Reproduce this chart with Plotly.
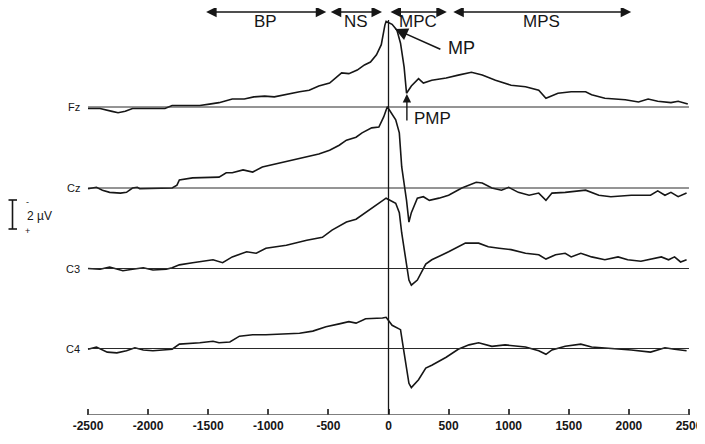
import plotly.graph_objects as go

# time in ms, amplitude in µV (negative potential is drawn upward)
fz_t = [-2500, -2400, -2300, -2250, -2190, -2130, -1990, -1860, -1800, -1740, -1650, -1570, -1490, -1410,
        -1300, -1200, -1120, -1030, -950, -870, -740, -660, -580, -490, -440, -390, -330, -260, -200,
        -150, -100, -60, -30, -20, 30, 70, 100, 130, 150, 190, 250, 290, 360, 480, 580, 690, 780, 890,
        1020, 1140, 1250, 1310, 1410, 1520, 1640, 1690, 1800, 1970, 2080, 2160, 2240, 2350, 2410, 2490]
fz_uv = [0.1, 0.1, 0.3, 0.4, 0.3, 0.1, 0.1, 0.1, -0.1, -0.1, -0.1, -0.1, -0.2, -0.3,
         -0.55, -0.55, -0.7, -0.75, -0.7, -0.85, -1.05, -1.15, -1.45, -1.65, -2.0, -2.35, -2.3, -2.55, -2.9,
         -3.1, -3.6, -4.3, -5.65, -5.9, -5.7, -5.3, -4.4, -2.75, -0.95, -1.45, -1.95, -1.65, -1.85, -2.0, -2.2, -2.4, -2.2, -1.85,
         -1.5, -1.4, -1.15, -0.6, -0.95, -1.05, -1.05, -0.85, -0.6, -0.5, -0.35, -0.55, -0.4, -0.3, -0.4, -0.2]

cz_t = [-2500, -2430, -2380, -2320, -2230, -2180, -2130, -2090, -2070, -1900, -1800, -1760, -1740, -1630,
        -1490, -1410, -1350, -1300, -1210, -1130, -1050, -970, -850, -740, -660, -580, -490, -410, -350,
        -270, -220, -140, -80, -40, -10, 60, 90, 110, 150, 170, 190, 240, 290, 340, 420, 500, 610, 730,
        780, 860, 940, 1000, 1080, 1170, 1250, 1310, 1360, 1470, 1640, 1750, 1850, 2020, 2180, 2240,
        2300, 2350, 2410, 2480]
cz_uv = [0.05, -0.05, 0.15, 0.3, 0.35, 0.3, 0.0, -0.05, 0.05, 0.05, 0.0, -0.2, -0.55, -0.7,
         -0.75, -0.75, -1.05, -1.05, -1.25, -1.1, -1.45, -1.6, -1.8, -2.0, -2.15, -2.35, -2.6, -2.95, -3.3,
         -3.5, -3.8, -4.15, -4.2, -4.9, -5.6, -4.7, -3.8, -1.45, 0.85, 2.35, 1.7, 0.7, 0.6, 0.85, 0.7, 0.5, 0.0, -0.4,
         -0.35, 0.0, 0.15, -0.05, 0.3, 0.5, 0.35, 0.85, 0.35, 0.3, 0.15, 0.5, 0.6, 0.5, 0.5, 0.2,
         0.5, 0.3, 0.6, 0.35]

c3_t = [-2500, -2400, -2320, -2210, -2130, -2040, -1960, -1850, -1800, -1740, -1630, -1460, -1380, -1300,
        -1180, -1100, -1020, -850, -680, -550, -470, -350, -270, -190, -80, -20, 60, 90, 110, 150, 170,
        190, 240, 310, 360, 500, 640, 750, 830, 920, 1020, 1140, 1250, 1310, 1390, 1470, 1520, 1600,
        1690, 1800, 1910, 1990, 2100, 2270, 2330, 2380, 2430, 2480]
c3_uv = [0.0, 0.05, -0.1, 0.15, 0.05, -0.05, 0.1, 0.05, -0.05, -0.25, -0.4, -0.6, -0.4, -0.8,
         -1.15, -1.05, -1.4, -1.6, -1.95, -2.15, -2.65, -3.2, -3.4, -3.85, -4.5, -4.85, -4.5, -3.85, -2.45, -0.1, 0.8,
         1.15, 0.8, -0.3, -0.6, -1.15, -1.75, -1.75, -1.5, -1.4, -1.3, -1.05, -0.95, -0.65, -0.95, -1.05, -0.8, -1.05,
         -0.8, -0.6, -0.8, -0.6, -0.5, -0.8, -0.6, -0.8, -0.45, -0.6]

c4_t = [-2500, -2430, -2340, -2260, -2180, -2110, -2040, -1960, -1800, -1740, -1570, -1460, -1410, -1320,
        -1240, -1130, -1020, -880, -740, -630, -520, -410, -330, -270, -190, -50, -20, 30, 100, 130, 170,
        190, 250, 310, 360, 480, 580, 670, 750, 860, 970, 1140, 1250, 1310, 1360, 1470, 1600, 1690, 1800,
        2020, 2180, 2300, 2380, 2480]
c4_uv = [0.05, -0.1, 0.25, 0.3, 0.15, -0.05, 0.1, 0.15, 0.05, -0.3, -0.4, -0.5, -0.4, -0.45,
         -0.85, -0.95, -0.95, -1.0, -1.05, -1.2, -1.5, -1.7, -1.85, -1.75, -2.05, -2.1, -2.15, -1.6, -1.3, 0.3, 2.4,
         2.7, 2.15, 1.35, 1.15, 0.6, 0.05, -0.25, -0.4, -0.15, -0.25, -0.1, 0.15, 0.4, 0.1, -0.15, -0.3, -0.1, -0.05,
         0.1, 0.25, -0.05, 0.05, 0.15]

channels = ["Fz", "Cz", "C3", "C4"]
tick_vals = [-2500, -2000, -1500, -1000, -500, 0, 500, 1000, 1500, 2000, 2500]

phases = ["BP", "NS", "MPC", "MPS"]
phase_start = [-1530, -493, 4, 527]
phase_end = [-518, -54, 485, 2019]

scale_uv = 2

# layout helpers: window pixel -> data units
# (the page body has an 8px margin, so the figure is drawn 8px in from the window corner)
PAGE = 8
W, H = 705, 444
PX_PER_UV = 14.5
def py(p):
    return p / PX_PER_UV
def px(p):
    return (p - 388.5) * 8.32

row_px = [107, 188, 268.5, 348.5]
axis_px = 415
axis_y = py(axis_px)
FONT = "Liberation Sans, Arial, sans-serif"
INK = "#161616"

fig = go.Figure()

series = [(fz_t, fz_uv), (cz_t, cz_uv), (c3_t, c3_uv), (c4_t, c4_uv)]
for name, (t, uv), rp in zip(channels, series, row_px):
    off = py(rp)
    fig.add_shape(type="line", x0=-2500, x1=2500, y0=off, y1=off,
                  line=dict(color="#2a2a2a", width=1))
    fig.add_trace(go.Scatter(x=t, y=[off + v for v in uv], mode="lines",
                             line=dict(color=INK, width=1.6), name=name, hoverinfo="skip"))
    fig.add_annotation(x=px(82), y=off, text=name, showarrow=False, xanchor="right",
                       font=dict(family=FONT, size=11, color=INK))

# movement onset line and the time axis
fig.add_shape(type="line", x0=0, x1=0, y0=py(20), y1=axis_y, line=dict(color=INK, width=1.3))
fig.add_shape(type="line", x0=-2500, x1=2500, y0=axis_y, y1=axis_y, line=dict(color="#555", width=1.5))
fig.add_shape(type="line", x0=-2500, x1=2500, y0=py(423), y1=py(423),
              line=dict(color="#bbb", width=1, dash="dot"))

# phase arrows at the top
for name, a, b in zip(phases, phase_start, phase_end):
    fig.add_annotation(x=b, y=py(12), ax=a, ay=py(12), xref="x", yref="y", axref="x", ayref="y",
                       text="", showarrow=True, arrowside="end+start", arrowhead=2, startarrowhead=2,
                       arrowsize=1.4, startarrowsize=1.4, arrowwidth=1.5, arrowcolor=INK)
    fig.add_annotation(x=(a + b) / 2, y=py(21.5), text=name, showarrow=False,
                       font=dict(family=FONT, size=17, color=INK))

# MP and PMP markers
fig.add_annotation(x=54, y=py(29), ax=444, ay=py(50), xref="x", yref="y", axref="x", ayref="y",
                   text="", showarrow=True, arrowhead=2, arrowsize=1.6, arrowwidth=1.6, arrowcolor=INK)
fig.add_annotation(x=px(461.7), y=py(48), text="MP", showarrow=False,
                   font=dict(family=FONT, size=18, color=INK))
fig.add_annotation(x=153, y=py(94), ax=153, ay=py(122), xref="x", yref="y", axref="x", ayref="y",
                   text="", showarrow=True, arrowhead=2, arrowsize=1.2, arrowwidth=1.4, arrowcolor=INK)
fig.add_annotation(x=px(412), y=py(118.5), text="PMP", showarrow=False, xanchor="left",
                   font=dict(family=FONT, size=17, color=INK))

# amplitude scale bar
bar_top = py(200)
bar_x = px(12.5)
fig.add_shape(type="line", x0=bar_x, x1=bar_x, y0=bar_top, y1=bar_top + scale_uv,
              line=dict(color=INK, width=1.6))
for yy in (bar_top, bar_top + scale_uv):
    fig.add_shape(type="line", x0=px(8.5), x1=px(17), y0=yy, y1=yy, line=dict(color=INK, width=1.6))
fig.add_annotation(x=px(25), y=bar_top + scale_uv / 2 + 0.07, text=f"{scale_uv} µV", showarrow=False,
                   xanchor="left", font=dict(family=FONT, size=12, color=INK))
fig.add_annotation(x=px(27), y=bar_top + 0.15, text="-", showarrow=False,
                   font=dict(family=FONT, size=9, color=INK))
fig.add_annotation(x=px(27), y=bar_top + scale_uv + 0.15, text="+", showarrow=False,
                   font=dict(family=FONT, size=9, color=INK))

fig.update_layout(
    width=W - PAGE, height=H - PAGE,
    margin=dict(l=0, r=0, t=0, b=H - axis_px),
    paper_bgcolor="white", plot_bgcolor="white",
    showlegend=False,
    xaxis=dict(range=[px(PAGE), px(W)], tickvals=tick_vals,
               ticktext=[f"<b>{v}</b>" for v in tick_vals],
               ticks="inside", ticklen=6, tickwidth=2, tickcolor="#444",
               showgrid=False, zeroline=False, showline=False,
               ticklabelstandoff=2,
               tickfont=dict(family=FONT, size=12, color=INK)),
    yaxis=dict(range=[axis_y, py(PAGE)], visible=False, showgrid=False, zeroline=False),
)

fig.write_html("out.html")
